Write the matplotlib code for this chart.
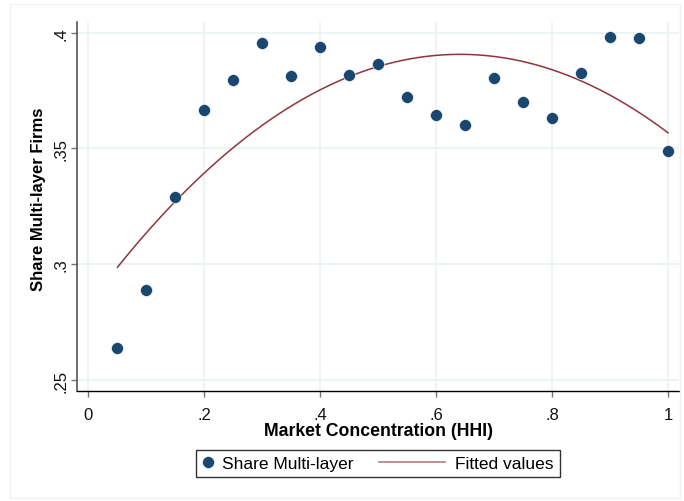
import numpy as np
import matplotlib
matplotlib.use("Agg")
import matplotlib.pyplot as plt
from matplotlib.legend_handler import HandlerLine2D

plt.rcParams['font.family'] = ['Liberation Sans', 'DejaVu Sans']

hhi = [0.05, 0.10, 0.15, 0.20, 0.25, 0.30, 0.35, 0.40, 0.45, 0.50,
       0.55, 0.60, 0.65, 0.70, 0.75, 0.80, 0.85, 0.90, 0.95, 1.00]
share = [0.2639, 0.2889, 0.3289, 0.3666, 0.3794, 0.3957, 0.3812, 0.3937, 0.3819, 0.3865,
         0.3721, 0.3645, 0.3602, 0.3806, 0.3702, 0.3630, 0.3827, 0.3981, 0.3976, 0.3489]
xticks = [0, 0.2, 0.4, 0.6, 0.8, 1.0]
xticklabels = ['0', '.2', '.4', '.6', '.8', '1']
yticks = [0.25, 0.30, 0.35, 0.40]
yticklabels = ['.25', '.3', '.35', '.4']

navy = '#1A476F'
maroon = '#90353B'
grid_c = '#EAF2F3'


class LongLineHandler(HandlerLine2D):
    def __init__(self, extra, **kw):
        super().__init__(**kw)
        self.extra = extra

    def create_artists(self, legend, orig_handle, xdescent, ydescent, width,
                       height, fontsize, trans):
        return super().create_artists(legend, orig_handle, xdescent + self.extra,
                                      ydescent, width + self.extra, height,
                                      fontsize, trans)


fig = plt.figure(figsize=(6.84, 5.02), dpi=100)
ax = fig.add_axes([0.1126, 0.2191, 0.8801, 0.7351])

coef = np.polyfit(hhi, share, 2)
xf = np.linspace(min(hhi), max(hhi), 200)
yf = np.polyval(coef, xf)

pts, = ax.plot(hhi, share, 'o', color=navy, markersize=8.6, markeredgecolor='white',
               markeredgewidth=0.4, label='Share Multi-layer', zorder=3)
fit, = ax.plot(xf, yf, '-', color=maroon, lw=1.1, label='Fitted values', zorder=2)

ax.set_xlim(-0.0198, 1.019)
ax.set_ylim(0.2453, 0.4046)
ax.set_xticks(xticks)
ax.set_xticklabels(xticklabels)
ax.set_yticks(yticks)
ax.set_yticklabels(yticklabels, rotation=90, va='center')
ax.grid(True, color=grid_c, lw=1.2)
ax.set_axisbelow(True)
for s in ['top', 'right']:
    ax.spines[s].set_visible(False)
ax.spines['left'].set_color('#555555')
ax.spines['left'].set_linewidth(1.2)
ax.spines['bottom'].set_color('#000000')
ax.spines['bottom'].set_linewidth(1.0)
ax.tick_params(axis='both', direction='out', length=4.5, width=1, color='#777777',
               labelsize=12, labelcolor='#111111')
ax.tick_params(axis='x', pad=7)
ax.tick_params(axis='y', pad=1.5)

ax.set_xlabel('Market Concentration (HHI)', fontsize=12.7, fontweight='bold', labelpad=0)
ax.set_ylabel('Share Multi-layer Firms', fontsize=12, fontweight='bold', labelpad=5.5)
ax.yaxis.label.set_y(0.523)

leg = fig.legend(handles=[pts, fit], loc='center', bbox_to_anchor=(0.5526, 0.0747),
                 ncol=2, frameon=True, fancybox=False, edgecolor='#000000',
                 fontsize=12.5, handlelength=0.6, columnspacing=4.67,
                 borderpad=0.35, handletextpad=0.55,
                 handler_map={fit: LongLineHandler(40)})
leg.get_frame().set_linewidth(1.0)
leg_lines = leg.get_lines()
if len(leg_lines) > 1:
    leg_lines[1].set_color('#B07078')

fig.patches.append(plt.Rectangle((0.014, 0.005), 0.98, 0.985, transform=fig.transFigure,
                                 fill=False, edgecolor='#EEF2F4', lw=1))

fig.savefig('out.png', dpi=100)
